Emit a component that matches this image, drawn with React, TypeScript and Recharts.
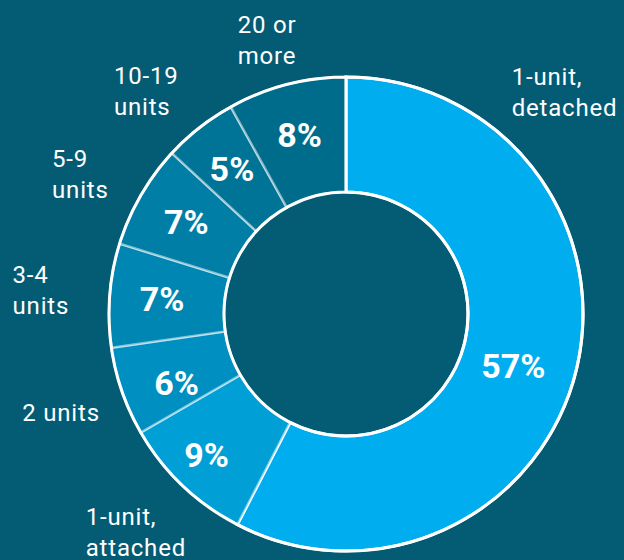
import { PieChart, Pie, Cell } from 'recharts'

// Housing units by type of structure
const categories = [
  '1-unit, detached',
  '1-unit, attached',
  '2 units',
  '3-4 units',
  '5-9 units',
  '10-19 units',
  '20 or more',
]
const labelLines = [
  ['1-unit,', 'detached'],
  ['1-unit,', 'attached'],
  ['2 units'],
  ['3-4', 'units'],
  ['5-9', 'units'],
  ['10-19', 'units'],
  ['20 or', 'more'],
]
const shares = [57, 9, 6, 7, 7, 5, 8]
const colors = ['#00AEEF', '#009FD5', '#008FC1', '#0086B2', '#007EA5', '#007496', '#006C8B']

const BG = '#035C73'
const WIDTH = 624
const HEIGHT = 560
const CX = 346
const CY = 314
const INNER = 122
const OUTER = 237
const OUTSIDE_R = 302
const LINE_H = 31
const CAT_FONT = 24
const PCT_FONT = 34
// big slice label sits up to the top right instead of at its middle
const angleOverride: Record<number, number> = { 0: 45 }
// small hand nudges so the labels sit where the original put them
const catNudge: Record<number, [number, number]> = {
  0: [4, -8],
  2: [7, 0],
  4: [0, 11],
  5: [-13, 15],
  6: [0, 19],
}
const pctNudge: Record<number, [number, number]> = {
  0: [-12, 9],
  1: [-12, 7],
  2: [5, 9],
}

const data = categories.map((name, i) => ({ name, value: shares[i], lines: labelLines[i] }))
const ring = [{ name: 'ring', value: 1 }]

const RAD = Math.PI / 180

function renderLabel(props: any) {
  const { cx, cy, midAngle, innerRadius, outerRadius, index, value } = props
  const rIn = (innerRadius + outerRadius) / 2 + 5
  const [pdx, pdy] = pctNudge[index] ?? [0, 0]
  const px = cx + rIn * Math.cos(-midAngle * RAD) + pdx
  const py = cy + rIn * Math.sin(-midAngle * RAD) + pdy

  const ang = angleOverride[index] ?? midAngle
  const [cdx, cdy] = catNudge[index] ?? [0, 0]
  const ox = cx + OUTSIDE_R * Math.cos(-ang * RAD) + cdx
  const oy = cy + OUTSIDE_R * Math.sin(-ang * RAD) + cdy
  const lines: string[] = data[index].lines
  const longest = Math.max(...lines.map((l) => l.length))
  const left = ox - longest * CAT_FONT * 0.27

  return (
    <g>
      <text
        x={px}
        y={py}
        fill="#fff"
        textAnchor="middle"
        dominantBaseline="central"
        fontSize={PCT_FONT}
        fontWeight={700}
        fontFamily="Roboto, sans-serif"
      >
        {value}%
      </text>
      <text fill="#fff" fontSize={CAT_FONT} fontFamily="Roboto, sans-serif" letterSpacing={0.8}>
        {lines.map((l, i) => (
          <tspan
            key={i}
            x={left}
            y={oy + (i - (lines.length - 1) / 2) * LINE_H}
            dominantBaseline="central"
          >
            {l}
          </tspan>
        ))}
      </text>
    </g>
  )
}

export default function App() {
  return (
    <div style={{ width: WIDTH, height: HEIGHT, background: BG, overflow: 'hidden' }}>
      <style>{'body{margin:0}'}</style>
      <PieChart width={WIDTH} height={HEIGHT} margin={{ top: 0, right: 0, bottom: 0, left: 0 }}>
        <Pie
          data={data}
          dataKey="value"
          nameKey="name"
          cx={CX}
          cy={CY}
          innerRadius={INNER}
          outerRadius={OUTER}
          startAngle={90}
          endAngle={-270}
          label={renderLabel}
          labelLine={false}
          isAnimationActive={false}
        >
          {data.map((d, i) => (
            <Cell
              key={d.name}
              fill={colors[i]}
              stroke={i === 0 ? '#fff' : 'rgba(255,255,255,0.5)'}
              strokeWidth={i === 0 ? 3 : 2.5}
            />
          ))}
        </Pie>
        {/* crisp white rim round the outside and the hole */}
        <Pie
          data={ring}
          dataKey="value"
          cx={CX}
          cy={CY}
          innerRadius={INNER}
          outerRadius={OUTER}
          startAngle={90}
          endAngle={-270}
          fill="none"
          stroke="#fff"
          strokeWidth={3}
          isAnimationActive={false}
        />
      </PieChart>
    </div>
  )
}
